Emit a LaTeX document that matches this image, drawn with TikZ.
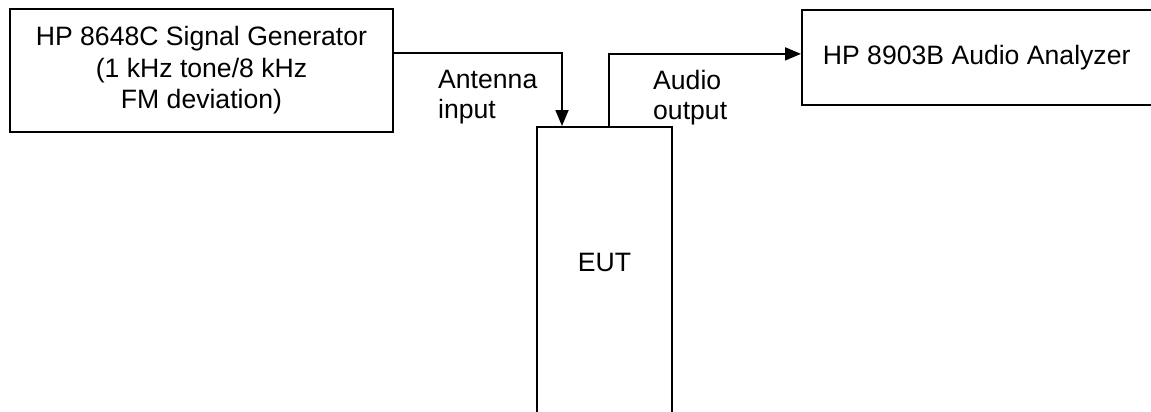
\documentclass[tikz,border=0pt]{standalone}
\usepackage{fontspec}
\setmainfont{Liberation Sans}
\usetikzlibrary{arrows.meta}
\begin{document}
\begin{tikzpicture}[x=1pt,y=-1pt,
  box/.style={draw=black,line width=1.8pt,font=\fontsize{26.6}{31.5}\selectfont,inner sep=0pt},
  lbl/.style={font=\fontsize{26.6}{30}\selectfont,align=left,inner sep=0pt,anchor=north west},
  arr/.style={line width=1.8pt,-{Triangle[length=16pt,width=13pt]}}]
\useasboundingbox (0,0) rectangle (1151,412);
\clip (0,0) rectangle (1151,412);
\fill[white] (0,0) rectangle (1151,412);
\node[box,align=center,minimum width=383pt,minimum height=123pt] (sg) at (201.5,70.5)
  {HP 8648C Signal Generator\\(1 kHz tone/8 kHz\\FM deviation)};
\node[box,anchor=north west,minimum width=362pt,minimum height=95pt,text width=320pt,align=flush left,inner xsep=21pt] (an) at (801,9)
  {HP 8903B Audio Analyzer};
\node[box,anchor=north,minimum width=135pt,inner ysep=126pt,text depth=40pt] (eut) at (604.5,126) {EUT};
\draw[arr] ([yshift=17.5pt]sg.east) -| ([xshift=-42.5pt]eut.north);
\draw[arr] ([xshift=4.5pt]eut.north) |- ([yshift=3.5pt]an.west);
\node[lbl] (ant) at (438,70) {Antenna\\input};
\node[lbl] (aud) at (653,70) {Audio\\output};
\end{tikzpicture}
\end{document}
